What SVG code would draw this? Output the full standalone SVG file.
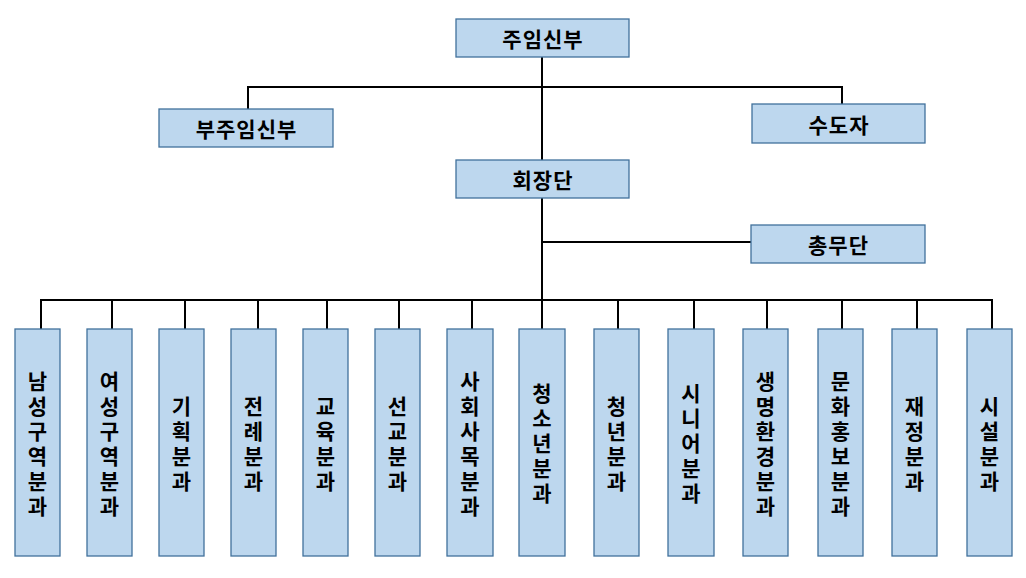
<svg xmlns="http://www.w3.org/2000/svg" width="1026" height="578" viewBox="0 0 1026 578">
<style>
.box{fill:#BDD7EE;stroke:#41719C;stroke-width:1.3}
.t{font-family:"Malgun Gothic","Noto Sans CJK KR","Noto Sans CJK SC",sans-serif;font-weight:bold;font-size:21px;fill:#000;text-anchor:middle;dominant-baseline:central}
.h{letter-spacing:1px}
.c{fill:none;stroke:#000;stroke-width:2}
</style>
<rect width="1026" height="578" fill="#fff"/>
<g id="connectors">
<path class="c" d="M542 57V300"/>
<path class="c" d="M248 109V87H842V104"/>
<path class="c" d="M542 242H751"/>
<path class="c" d="M41 329V300H992V329"/>
<path class="c" d="M112 300V329M185 300V329M258 300V329M327 300V329M399 300V329M472 300V329M542 300V329M618 300V329M694 300V329M767 300V329M842 300V329M917 300V329"/>
</g>
<g id="n-jooim"><rect class="box" x="456" y="19" width="173" height="38"/><text class="t h" x="543" y="38">주임신부</text></g>
<g id="n-bujooim"><rect class="box" x="159" y="109" width="174" height="38"/><text class="t h" x="246.5" y="128">부주임신부</text></g>
<g id="n-sudoja"><rect class="box" x="752" y="104" width="173" height="39"/><text class="t h" x="839" y="123.5">수도자</text></g>
<g id="n-hoejang"><rect class="box" x="456" y="160" width="173" height="38"/><text class="t h" x="543" y="179">회장단</text></g>
<g id="n-chongmu"><rect class="box" x="751" y="225" width="174" height="38"/><text class="t h" x="838.5" y="244">총무단</text></g>
<g id="d1"><rect class="box" x="15" y="329" width="45" height="227"/><text class="t"><tspan x="37.5" y="379.5">남</tspan><tspan x="37.5" y="404.5">성</tspan><tspan x="37.5" y="429.5">구</tspan><tspan x="37.5" y="454.5">역</tspan><tspan x="37.5" y="479.5">분</tspan><tspan x="37.5" y="504.5">과</tspan></text></g>
<g id="d2"><rect class="box" x="87" y="329" width="45" height="227"/><text class="t"><tspan x="109.5" y="379.5">여</tspan><tspan x="109.5" y="404.5">성</tspan><tspan x="109.5" y="429.5">구</tspan><tspan x="109.5" y="454.5">역</tspan><tspan x="109.5" y="479.5">분</tspan><tspan x="109.5" y="504.5">과</tspan></text></g>
<g id="d3"><rect class="box" x="159" y="329" width="45" height="227"/><text class="t"><tspan x="181.5" y="404.5">기</tspan><tspan x="181.5" y="429.5">획</tspan><tspan x="181.5" y="454.5">분</tspan><tspan x="181.5" y="479.5">과</tspan></text></g>
<g id="d4"><rect class="box" x="231" y="329" width="45" height="227"/><text class="t"><tspan x="253.5" y="404.5">전</tspan><tspan x="253.5" y="429.5">례</tspan><tspan x="253.5" y="454.5">분</tspan><tspan x="253.5" y="479.5">과</tspan></text></g>
<g id="d5"><rect class="box" x="303" y="329" width="45" height="227"/><text class="t"><tspan x="325.5" y="404.5">교</tspan><tspan x="325.5" y="429.5">육</tspan><tspan x="325.5" y="454.5">분</tspan><tspan x="325.5" y="479.5">과</tspan></text></g>
<g id="d6"><rect class="box" x="375" y="329" width="45" height="227"/><text class="t"><tspan x="397.5" y="404.5">선</tspan><tspan x="397.5" y="429.5">교</tspan><tspan x="397.5" y="454.5">분</tspan><tspan x="397.5" y="479.5">과</tspan></text></g>
<g id="d7"><rect class="box" x="447" y="329" width="46" height="227"/><text class="t"><tspan x="470" y="379.5">사</tspan><tspan x="470" y="404.5">회</tspan><tspan x="470" y="429.5">사</tspan><tspan x="470" y="454.5">목</tspan><tspan x="470" y="479.5">분</tspan><tspan x="470" y="504.5">과</tspan></text></g>
<g id="d8"><rect class="box" x="519" y="329" width="46" height="227"/><text class="t"><tspan x="542" y="392">청</tspan><tspan x="542" y="417">소</tspan><tspan x="542" y="442">년</tspan><tspan x="542" y="467">분</tspan><tspan x="542" y="492">과</tspan></text></g>
<g id="d9"><rect class="box" x="594" y="329" width="45" height="227"/><text class="t"><tspan x="616.5" y="404.5">청</tspan><tspan x="616.5" y="429.5">년</tspan><tspan x="616.5" y="454.5">분</tspan><tspan x="616.5" y="479.5">과</tspan></text></g>
<g id="d10"><rect class="box" x="668" y="329" width="46" height="227"/><text class="t"><tspan x="691" y="392">시</tspan><tspan x="691" y="417">니</tspan><tspan x="691" y="442">어</tspan><tspan x="691" y="467">분</tspan><tspan x="691" y="492">과</tspan></text></g>
<g id="d11"><rect class="box" x="743" y="329" width="45" height="227"/><text class="t"><tspan x="765.5" y="379.5">생</tspan><tspan x="765.5" y="404.5">명</tspan><tspan x="765.5" y="429.5">환</tspan><tspan x="765.5" y="454.5">경</tspan><tspan x="765.5" y="479.5">분</tspan><tspan x="765.5" y="504.5">과</tspan></text></g>
<g id="d12"><rect class="box" x="818" y="329" width="45" height="227"/><text class="t"><tspan x="840.5" y="379.5">문</tspan><tspan x="840.5" y="404.5">화</tspan><tspan x="840.5" y="429.5">홍</tspan><tspan x="840.5" y="454.5">보</tspan><tspan x="840.5" y="479.5">분</tspan><tspan x="840.5" y="504.5">과</tspan></text></g>
<g id="d13"><rect class="box" x="892" y="329" width="45" height="227"/><text class="t"><tspan x="914.5" y="404.5">재</tspan><tspan x="914.5" y="429.5">정</tspan><tspan x="914.5" y="454.5">분</tspan><tspan x="914.5" y="479.5">과</tspan></text></g>
<g id="d14"><rect class="box" x="967" y="329" width="45" height="227"/><text class="t"><tspan x="989.5" y="404.5">시</tspan><tspan x="989.5" y="429.5">설</tspan><tspan x="989.5" y="454.5">분</tspan><tspan x="989.5" y="479.5">과</tspan></text></g>
</svg>
